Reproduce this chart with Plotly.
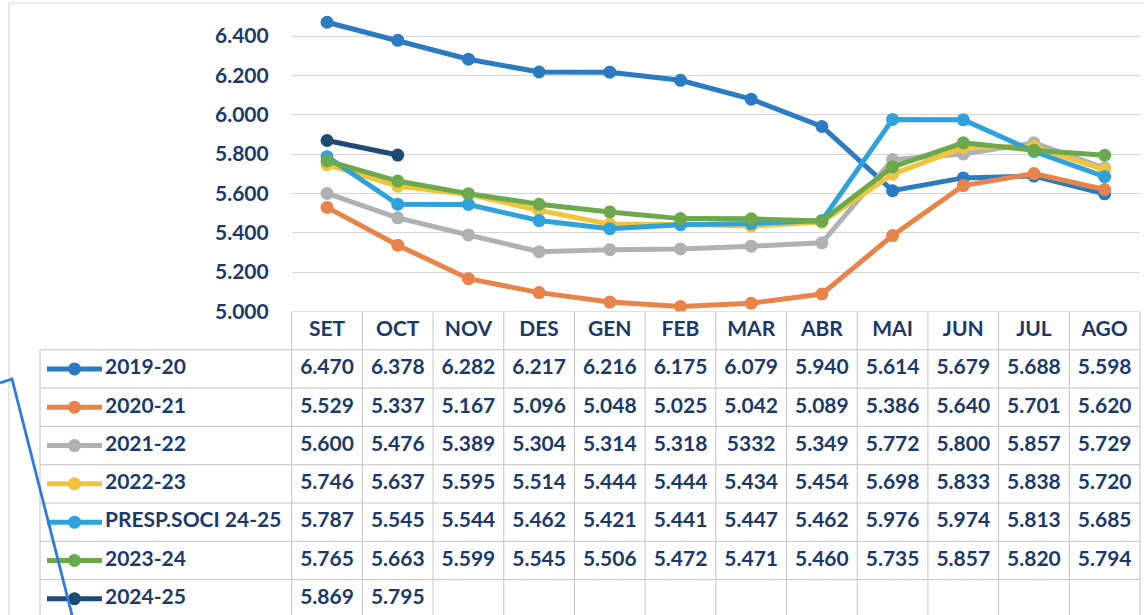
import plotly.graph_objects as go

# ---------------- data ----------------
months = ["SET", "OCT", "NOV", "DES", "GEN", "FEB", "MAR", "ABR", "MAI", "JUN", "JUL", "AGO"]
series_names = ["2019-20", "2020-21", "2021-22", "2022-23", "PRESP.SOCI 24-25", "2023-24", "2024-25"]

s_2019_20 = [6.470, 6.378, 6.282, 6.217, 6.216, 6.175, 6.079, 5.940, 5.614, 5.679, 5.688, 5.598]
s_2020_21 = [5.529, 5.337, 5.167, 5.096, 5.048, 5.025, 5.042, 5.089, 5.386, 5.640, 5.701, 5.620]
s_2021_22 = [5.600, 5.476, 5.389, 5.304, 5.314, 5.318, 5.332, 5.349, 5.772, 5.800, 5.857, 5.729]
s_2022_23 = [5.746, 5.637, 5.595, 5.514, 5.444, 5.444, 5.434, 5.454, 5.698, 5.833, 5.838, 5.720]
s_presp = [5.787, 5.545, 5.544, 5.462, 5.421, 5.441, 5.447, 5.462, 5.976, 5.974, 5.813, 5.685]
s_2023_24 = [5.765, 5.663, 5.599, 5.545, 5.506, 5.472, 5.471, 5.460, 5.735, 5.857, 5.820, 5.794]
s_2024_25 = [5.869, 5.795, None, None, None, None, None, None, None, None, None, None]

series_values = [s_2019_20, s_2020_21, s_2021_22, s_2022_23, s_presp, s_2023_24, s_2024_25]
# the source table prints one cell without its separator
cell_text_overrides = {(2, 6): "5332"}

y_ticks = [5.0, 5.2, 5.4, 5.6, 5.8, 6.0, 6.2, 6.4]

# ---------------- style ----------------
colors = ["#2b7bc2", "#e8844a", "#aeb2b2", "#f2c43c", "#2fa2dc", "#6ca94c", "#1d4b74"]
NAVY = "#1b3a6b"
FONT = dict(family="Lato", size=21, color=NAVY, weight="bold")
GRID = "#d6d6d6"
TABLE_LINE = "#c4c4c4"

W, H = 1144, 615
plot_left, plot_right = 291.7, 1140.0
plot_top, plot_bottom = 3.0, 311.5
col_w = (plot_right - plot_left) / 12
row_h = 38.3
y_px_per_unit = (311.5 - 36.0) / 1.4
legend_left_px = 40.0

x2_left = -0.5 - plot_left / col_w
x2_right = 11.5 + (W - plot_right) / col_w
y2_bottom = -0.5 + (H - plot_bottom) / row_h
legend_left = -0.5 - (plot_left - legend_left_px) / col_w

fig = go.Figure()

xi = list(range(len(months)))
for name, vals, c in zip(series_names, series_values, colors):
    fig.add_trace(go.Scatter(
        x=xi, y=vals, mode="lines+markers", name=name,
        line=dict(color=c, width=5), marker=dict(color=c, size=13),
        xaxis="x", yaxis="y", showlegend=False, connectgaps=False,
    ))

# table header (months)
fig.add_trace(go.Scatter(
    x=xi, y=[0] * len(months), text=months, mode="text",
    textfont=FONT, textposition="middle center",
    xaxis="x2", yaxis="y2", showlegend=False, hoverinfo="skip",
))

# table rows
icon_x0 = -0.5 - (plot_left - 47) / col_w
icon_x1 = -0.5 - (plot_left - 102) / col_w
label_x = -0.5 - (plot_left - 105) / col_w
for r, (name, vals, c) in enumerate(zip(series_names, series_values, colors), start=1):
    txt = []
    for k, v in enumerate(vals):
        if v is None:
            txt.append("")
        else:
            txt.append(cell_text_overrides.get((r - 1, k), f"{v:.3f}"))
    fig.add_trace(go.Scatter(
        x=xi, y=[r] * len(months), text=txt, mode="text",
        textfont=FONT, textposition="middle center",
        xaxis="x2", yaxis="y2", showlegend=False, hoverinfo="skip",
    ))
    # legend key: line with centre marker
    fig.add_trace(go.Scatter(
        x=[icon_x0, icon_x1], y=[r, r], mode="lines",
        line=dict(color=c, width=5), xaxis="x2", yaxis="y2",
        showlegend=False, hoverinfo="skip",
    ))
    fig.add_trace(go.Scatter(
        x=[(icon_x0 + icon_x1) / 2], y=[r], mode="markers",
        marker=dict(color=c, size=13), xaxis="x2", yaxis="y2",
        showlegend=False, hoverinfo="skip",
    ))
    fig.add_trace(go.Scatter(
        x=[label_x], y=[r], text=[name], mode="text",
        textfont=FONT, textposition="middle right",
        xaxis="x2", yaxis="y2", showlegend=False, hoverinfo="skip",
    ))

shapes = []
# table grid
for k in range(13):
    shapes.append(dict(type="line", xref="x2", yref="y2", x0=-0.5 + k, x1=-0.5 + k,
                       y0=-0.5, y1=y2_bottom, line=dict(color=TABLE_LINE, width=1)))
shapes.append(dict(type="line", xref="x2", yref="y2", x0=legend_left, x1=legend_left,
                   y0=0.5, y1=y2_bottom, line=dict(color=TABLE_LINE, width=1)))
shapes.append(dict(type="line", xref="x2", yref="y2", x0=-0.5, x1=11.5,
                   y0=-0.5, y1=-0.5, line=dict(color=TABLE_LINE, width=1)))
for j in range(7):
    shapes.append(dict(type="line", xref="x2", yref="y2", x0=legend_left, x1=11.5,
                       y0=0.5 + j, y1=0.5 + j, line=dict(color=TABLE_LINE, width=1)))

# chart area frame (left & top)
shapes.append(dict(type="line", xref="paper", yref="paper", x0=9 / W, x1=9 / W,
                   y0=0, y1=1 - 3 / H, line=dict(color="#cfcfcf", width=1)))
shapes.append(dict(type="line", xref="paper", yref="paper", x0=9 / W, x1=1,
                   y0=1 - 3 / H, y1=1 - 3 / H, line=dict(color="#d8d8d8", width=1)))

# hand-drawn blue pen stroke on the scanned page
pen = [(0, 383), (12, 379), (72, 615)]
path = "M " + " L ".join(f"{px / W:.5f},{1 - py / H:.5f}" for px, py in pen)
shapes.append(dict(type="path", xref="paper", yref="paper", path=path,
                   line=dict(color="#2a7be2", width=2.8)))

fig.update_layout(
    width=W, height=H, autosize=False,
    margin=dict(l=0, r=0, t=0, b=0, pad=0, autoexpand=False),
    paper_bgcolor="white", plot_bgcolor="rgba(0,0,0,0)",
    shapes=shapes,
    xaxis=dict(domain=[plot_left / W, plot_right / W], range=[-0.5, 11.5],
               showgrid=False, zeroline=False, showticklabels=False, showline=False,
               automargin=False, fixedrange=True),
    yaxis=dict(domain=[1 - plot_bottom / H, 1 - plot_top / H],
               range=[5.0, 6.4 + (36.0 - plot_top) / y_px_per_unit],
               tickvals=y_ticks, tickformat=".3f", showgrid=True, gridcolor=GRID,
               gridwidth=1, zeroline=False, showline=False, tickfont=FONT,
               ticklabelstandoff=22, automargin=False, fixedrange=True),
    xaxis2=dict(domain=[0, 1], range=[x2_left, x2_right], anchor="y2",
                visible=False, automargin=False, fixedrange=True),
    yaxis2=dict(domain=[0, 1 - plot_bottom / H], range=[y2_bottom, -0.5], anchor="x2",
                visible=False, automargin=False, fixedrange=True),
    showlegend=False,
)

fig.write_html(
    "out.html",
    config={"displayModeBar": False, "responsive": False},
    post_script=(
        "document.documentElement.style.overflow='hidden';"
        "document.body.style.margin='0';"
        "document.body.style.overflow='hidden';"
    ),
)
